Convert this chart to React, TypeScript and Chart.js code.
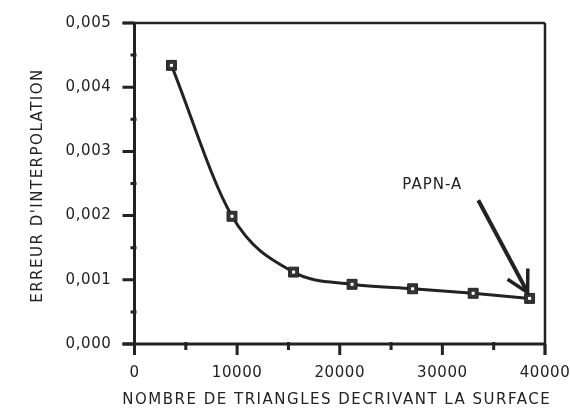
import React, { useEffect, useRef } from 'react';
import { Chart, registerables } from 'chart.js';

Chart.register(...registerables);

// ---- data ----
const triangles = [3600, 9500, 15500, 21200, 27100, 33000, 38500];
const erreur = [0.00434, 0.00199, 0.00112, 0.00093, 0.00086, 0.00079, 0.00071];
const xTickValues = [0, 10000, 20000, 30000, 40000];
const yTickValues = [0, 0.001, 0.002, 0.003, 0.004, 0.005];
const xTitle = 'NOMBRE DE TRIANGLES DECRIVANT LA SURFACE';
const yTitle = "ERREUR D'INTERPOLATION";
const annotationLabel = 'PAPN-A';
const annotationTextAt = [26100, 0.00248];
const annotationArrowFrom = [33500, 0.00224];

const ink = '#222222';
const FONT = "'DejaVu Sans', sans-serif";

const framePlugin = {
  id: 'frame',
  beforeDraw(chart: any) {
    const ctx = chart.ctx;
    ctx.save();
    ctx.fillStyle = '#ffffff';
    ctx.fillRect(0, 0, chart.width, chart.height);
    ctx.restore();
    try { ctx.letterSpacing = '0.6px'; } catch (e) {}
  },
  afterDraw(chart: any) {
    const ctx = chart.ctx;
    const a = chart.chartArea;
    const x = chart.scales.x;
    const y = chart.scales.y;
    ctx.save();
    ctx.strokeStyle = ink;
    ctx.lineCap = 'butt';
    // frame top & right
    ctx.lineWidth = 2.5;
    ctx.beginPath();
    ctx.moveTo(a.left - 12, a.top);
    ctx.lineTo(a.right, a.top);
    ctx.moveTo(a.right, a.top);
    ctx.lineTo(a.right, a.bottom + 11);
    ctx.stroke();
    // left and bottom axes
    ctx.lineWidth = 3;
    ctx.beginPath();
    ctx.moveTo(a.left, a.top);
    ctx.lineTo(a.left, a.bottom + 11);
    ctx.moveTo(a.left - 12, a.bottom);
    ctx.lineTo(a.right, a.bottom);
    ctx.stroke();
    // y ticks
    ctx.lineWidth = 3;
    ctx.beginPath();
    yTickValues.forEach((v) => {
      const py = y.getPixelForValue(v);
      ctx.moveTo(a.left - 12, py);
      ctx.lineTo(a.left, py);
    });
    for (let i = 0; i < yTickValues.length - 1; i++) {
      const py = y.getPixelForValue((yTickValues[i] + yTickValues[i + 1]) / 2);
      ctx.moveTo(a.left - 4, py);
      ctx.lineTo(a.left + 2, py);
    }
    // x ticks
    xTickValues.forEach((v) => {
      const px = x.getPixelForValue(v);
      ctx.moveTo(px, a.bottom);
      ctx.lineTo(px, a.bottom + 11);
    });
    for (let i = 0; i < xTickValues.length - 1; i++) {
      const px = x.getPixelForValue((xTickValues[i] + xTickValues[i + 1]) / 2);
      ctx.moveTo(px, a.bottom - 2);
      ctx.lineTo(px, a.bottom + 6);
    }
    ctx.stroke();

    // axis titles
    ctx.fillStyle = ink;
    ctx.font = `15px ${FONT}`;
    try { ctx.letterSpacing = '1.5px'; } catch (e) {}
    ctx.textAlign = 'center';
    ctx.textBaseline = 'middle';
    ctx.fillText(xTitle, (a.left + a.right) / 2 - 3, 400);
    ctx.save();
    ctx.translate(38, (a.top + a.bottom) / 2 + 2);
    ctx.rotate(-Math.PI / 2);
    ctx.fillText(yTitle, 0, 0);
    ctx.restore();

    // annotation
    try { ctx.letterSpacing = '1px'; } catch (e) {}
    ctx.textAlign = 'left';
    ctx.fillText(annotationLabel, x.getPixelForValue(annotationTextAt[0]), y.getPixelForValue(annotationTextAt[1]));
    const last = triangles.length - 1;
    const sx = x.getPixelForValue(annotationArrowFrom[0]);
    const sy = y.getPixelForValue(annotationArrowFrom[1]);
    const tx = x.getPixelForValue(triangles[last]) - 2;
    const ty = y.getPixelForValue(erreur[last]) - 6;
    ctx.lineWidth = 4;
    ctx.beginPath();
    ctx.moveTo(sx, sy);
    ctx.lineTo(tx, ty);
    ctx.stroke();
    const ang = Math.atan2(ty - sy, tx - sx);
    const len = 24;
    ctx.lineWidth = 3.5;
    ctx.beginPath();
    ctx.moveTo(tx - len * Math.cos(ang - 0.5), ty - len * Math.sin(ang - 0.5));
    ctx.lineTo(tx, ty);
    ctx.lineTo(tx - len * Math.cos(ang + 0.5), ty - len * Math.sin(ang + 0.5));
    ctx.stroke();

    // marker inner white marks
    ctx.fillStyle = '#ffffff';
    triangles.forEach((v, i) => {
      const px = x.getPixelForValue(v);
      const py = y.getPixelForValue(erreur[i]);
      ctx.fillRect(px - 1.5, py - 1.5, 3, 3);
    });
    ctx.restore();
  },
};

const zeroPad = (s: any) => {
  s.paddingTop = 0;
  s.paddingBottom = 0;
  s.paddingLeft = 0;
  s.paddingRight = 0;
};

export default function App() {
  const ref = useRef<HTMLCanvasElement>(null);
  useEffect(() => {
    if (!ref.current) return;
    const chart = new Chart(ref.current, {
      type: 'line',
      data: {
        datasets: [
          {
            data: triangles.map((t, i) => ({ x: t, y: erreur[i] })),
            borderColor: ink,
            borderWidth: 3,
            backgroundColor: ink,
            pointStyle: 'rect',
            pointRadius: 7,
            pointBorderWidth: 1,
            pointBorderColor: ink,
            pointBackgroundColor: '#333333',
            cubicInterpolationMode: 'monotone',
            fill: false,
          },
        ],
      },
      options: {
        responsive: false,
        animation: false,
        events: [],
        layout: { padding: { top: 23, right: 25, left: 0, bottom: 0 } },
        plugins: { legend: { display: false }, tooltip: { enabled: false }, title: { display: false } },
        scales: {
          x: {
            type: 'linear',
            min: 0,
            max: 40000,
            afterFit: (s: any) => { s.height = 67; zeroPad(s); },
            afterBuildTicks: (s: any) => { s.ticks = xTickValues.map((v) => ({ value: v })); },
            grid: { display: false, drawTicks: false },
            border: { display: false },
            ticks: {
              padding: 20,
              color: ink,
              font: { family: FONT, size: 15 },
              maxRotation: 0,
              callback: (v: any) => String(v),
            },
          },
          y: {
            type: 'linear',
            min: 0,
            max: 0.005,
            afterFit: (s: any) => { s.width = 134.5; zeroPad(s); },
            afterBuildTicks: (s: any) => { s.ticks = yTickValues.map((v) => ({ value: v })); },
            grid: { display: false, drawTicks: false },
            border: { display: false },
            ticks: {
              padding: 23,
              color: ink,
              font: { family: FONT, size: 15 },
              callback: (v: any) => Number(v).toFixed(3).replace('.', ','),
            },
          },
        },
      },
      plugins: [framePlugin],
    });
    return () => chart.destroy();
  }, []);
  return (
    <div style={{ position: 'fixed', left: 0, top: 0, width: 570, height: 411, background: '#fff' }}>
      <canvas ref={ref} width={570} height={411} style={{ display: 'block' }} />
    </div>
  );
}
